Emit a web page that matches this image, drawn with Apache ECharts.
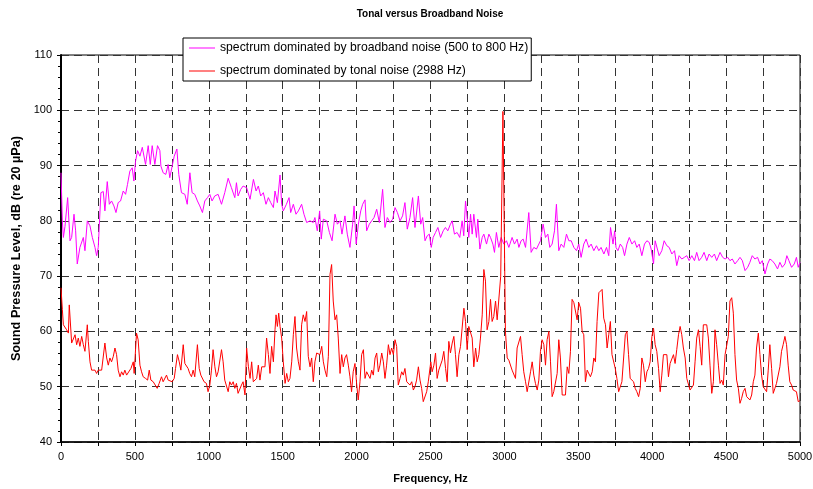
<!DOCTYPE html>
<html>
<head>
<meta charset="utf-8">
<script src="https://cdn.jsdelivr.net/npm/echarts@6/dist/echarts.min.js"></script>
<style>html,body{margin:0;padding:0;background:#fff;overflow:hidden}#c{width:813px;height:489px}</style>
</head>
<body>
<div id="c"></div>
<script>
// Broadband-dominated spectrum (Hz, dB)
const broadFreq = [
0,9,16,27,45,61,72,88,99,110,
128,151,162,178,196,212,230,241,252,264,
270,286,297,313,327,342,358,372,387,403,
421,437,450,466,482,493,504,518,534,550,
563,572,590,604,617,635,653,669,676,691,
709,725,736,752,766,784,797,815,838,854,
872,887,905,923,939,957,973,991,1007,1022,
1040,1063,1086,1108,1131,1153,1176,1187,1198,1216,
1232,1256,1279,1302,1320,1335,1351,1369,1387,1403,
1419,1437,1448,1464,1482,1493,1504,1525,1543,1554,
1572,1590,1606,1628,1644,1662,1685,1707,1718,1734,
1750,1761,1775,1798,1816,1834,1854,1870,1888,1901,
1921,1937,1955,1973,1983,1997,2012,2028,2041,2057,
2068,2086,2102,2118,2136,2154,2176,2192,2208,2226,
2244,2260,2276,2294,2311,2327,2343,2361,2379,2395,
2418,2434,2447,2463,2478,2492,2505,2518,2534,2550,
2568,2586,2601,2617,2635,2647,2662,2680,2698,2714,
2725,2737,2748,2759,2771,2782,2793,2811,2820,2834,
2850,2861,2879,2895,2906,2922,2933,2946,2962,2978,
2996,3014,3030,3052,3068,3086,3098,3113,3127,3143,
3165,3181,3199,3217,3233,3244,3262,3278,3294,3307,
3323,3339,3352,3368,3384,3402,3420,3436,3452,3470,
3488,3503,3519,3537,3553,3571,3587,3605,3623,3639,
3654,3673,3691,3706,3718,3735,3746,3755,3768,3784,
3800,3813,3829,3845,3863,3881,3896,3912,3930,3948,
3964,3980,3993,4009,4020,4031,4047,4065,4081,4099,
4115,4133,4151,4166,4182,4200,4218,4234,4250,4268,
4286,4301,4317,4335,4351,4369,4385,4403,4421,4436,
4459,4477,4493,4511,4526,4542,4560,4578,4594,4610,
4628,4646,4661,4677,4695,4713,4729,4745,4763,4781,
4796,4812,4830,4848,4864,4880,4898,4911,4925,4943,
4961,4976,4988,5000];
const broadLevel = [
88.7,80,77.0,79,84.2,76.4,77.0,81.2,78.2,72.2,
75.2,77.0,74.6,80.0,79.1,77.0,75.2,73.7,75.2,74.9,
85.1,85.3,81.8,87.1,83.0,83.6,82.7,81.5,83.3,83.6,
85.4,84.8,86.6,89.0,89.6,87.2,90.7,92.7,91.7,93.3,
93.6,90.2,93.6,90.2,93.6,90.2,93.6,92.7,89.9,88.7,
88.4,90.2,87.8,89.9,91.7,93.0,88.4,85.1,84.8,83.0,
88.7,85.1,84.8,83.6,82.7,81.5,83.6,84.2,84.8,83.6,
84.5,84.8,83.0,85.1,87.7,86.0,84.2,86.9,84.5,85.7,
86.3,86.0,83.9,87.5,85.4,86.3,84.5,85.1,83.0,84.2,
83.3,82.4,85.4,83.3,88.3,83.0,81.8,83.0,84.2,81.5,
83.0,81.2,81.8,83.0,81.2,79.7,80.0,79.7,80.6,78.2,
81.8,76.7,80.3,80.0,77.9,76.4,81.2,79.4,80.0,77.6,
80.9,77.6,75.2,79.4,82.7,75.8,79.4,81.8,83.0,83.8,
78.2,79.4,80.0,80.6,82.1,79.7,85.7,78.8,80.6,79.7,
80.3,82.4,81.5,80.0,80.9,83.3,78.5,80.6,84.2,78.8,
84.5,79.4,80.6,76.4,77.3,77.6,75.2,77.0,77.9,78.8,
77.0,78.2,78.8,78.2,79.4,80.0,77.6,77.9,77.0,80.0,
77.3,83.6,80.6,77.0,81.2,77.6,81.2,77.0,80.3,74.9,
77.0,77.6,75.8,77.6,77.0,75.8,74.3,77.9,75.2,77.0,
75.8,76.4,75.2,77.0,75.8,76.7,75.2,76.4,76.7,75.2,
81.5,74.3,75.2,74.9,75.8,76.4,79.4,77.0,77.6,75.2,
75.8,78.2,83.0,74.6,75.8,75.2,77.6,76.4,76.4,75.2,
74.6,75.8,73.4,75.8,76.7,75.2,75.8,74.6,75.5,74.6,
75.2,74.0,75.2,73.7,78.8,75.8,78.2,75.2,74.6,75.8,
75.2,73.7,75.8,77.0,75.8,76.4,75.2,75.8,73.7,75.8,
76.4,76.1,74.9,72.2,76.4,76.7,73.7,74.6,76.4,75.5,
75.2,74.0,74.6,71.9,73.7,73.1,73.4,73.7,72.8,73.7,
72.8,74.3,72.8,73.4,74.3,72.8,74.0,73.4,74.0,72.8,
74.3,73.4,73.1,73.4,72.8,73.1,72.2,72.8,73.4,72.8,
71.0,71.6,72.5,73.7,73.1,73.4,72.2,72.8,70.4,72.2,
73.1,72.8,72.2,71.3,72.5,71.6,72.2,73.7,72.8,71.6,
72.2,73.4,71.6,72.5];

// Tonal-dominated spectrum (Hz, dB)
const tonalFreq = [
0,9,16,38,50,56,65,72,83,95,
106,117,128,140,151,162,178,185,196,207,
218,230,241,252,264,275,286,297,309,320,
331,342,354,365,376,387,399,410,421,432,
444,455,473,489,495,511,522,534,545,556,
572,586,597,608,624,635,651,664,680,691,
703,714,725,736,752,766,775,788,800,811,
827,838,849,860,871,883,894,905,923,935,
946,957,968,984,995,1007,1018,1029,1041,1052,
1063,1074,1086,1097,1108,1120,1131,1142,1153,1165,
1176,1187,1198,1210,1221,1232,1245,1256,1268,1279,
1290,1301,1313,1324,1335,1346,1358,1369,1380,1391,
1403,1414,1425,1437,1448,1455,1464,1473,1482,1493,
1504,1516,1527,1538,1549,1561,1572,1583,1594,1606,
1617,1628,1639,1651,1662,1673,1685,1696,1707,1718,
1730,1741,1752,1764,1775,1786,1798,1809,1820,1831,
1842,1854,1865,1876,1888,1899,1910,1921,1932,1944,
1955,1966,1977,1989,2000,2011,2023,2034,2046,2057,
2068,2080,2091,2102,2113,2125,2136,2147,2158,2170,
2181,2192,2203,2215,2226,2237,2249,2260,2271,2282,
2294,2305,2316,2327,2339,2350,2361,2373,2384,2395,
2406,2418,2429,2440,2451,2463,2474,2485,2492,2502,
2511,2523,2534,2545,2556,2568,2579,2590,2602,2613,
2624,2635,2647,2658,2669,2680,2692,2703,2714,2726,
2737,2748,2759,2771,2782,2793,2805,2816,2827,2838,
2850,2861,2872,2883,2895,2906,2917,2928,2940,2951,
2962,2975,2990,3007,3019,3030,3041,3052,3064,3075,
3086,3098,3109,3120,3131,3143,3154,3165,3177,3188,
3199,3210,3222,3233,3244,3255,3267,3278,3289,3301,
3312,3323,3334,3346,3357,3368,3379,3391,3402,3413,
3425,3436,3447,3458,3470,3481,3492,3503,3515,3526,
3537,3548,3560,3571,3582,3594,3605,3616,3627,3639,
3650,3661,3672,3684,3695,3706,3717,3728,3739,3750,
3761,3773,3784,3795,3806,3818,3829,3840,3851,3863,
3874,3885,3896,3908,3919,3930,3941,3953,3964,3975,
3986,3998,4009,4020,4031,4043,4054,4065,4076,4088,
4099,4110,4121,4133,4144,4155,4166,4178,4189,4200,
4211,4223,4234,4245,4256,4268,4279,4290,4301,4313,
4324,4335,4346,4358,4369,4380,4391,4403,4414,4425,
4436,4448,4459,4470,4481,4493,4504,4515,4526,4538,
4549,4560,4571,4583,4594,4605,4616,4628,4639,4650,
4661,4673,4684,4695,4706,4718,4729,4740,4751,4763,
4774,4785,4796,4808,4819,4830,4841,4853,4864,4875,
4886,4898,4909,4920,4931,4943,4954,4965,4976,4988,
5000];
const tonalLevel = [
67.9,64,61.2,60.3,59.7,64.8,64.5,57.9,58.2,59.4,
57.6,58.8,57.3,59.1,57.6,56.4,61.2,58.2,54.5,53.0,
52.7,53.0,52.4,53.0,52.7,53.0,52.7,57.9,55.2,53.9,
55.2,54.5,55.5,57.0,55.8,53.0,51.8,52.7,52.1,53.0,
52.1,51.8,53.3,54.5,52.4,59.7,58.5,53.9,52.7,51.8,
51.5,51.2,53.0,51.2,50.9,50.6,49.7,50.6,51.8,50.9,
50.6,52.1,51.2,51.5,50.9,51.5,53.3,55.8,54.5,53.0,
57.6,54.2,53.9,53.3,52.4,51.8,53.0,51.8,57.6,53.3,
52.1,52.4,50.9,50.6,49.1,50.3,53.0,56.7,53.6,51.8,
52.7,52.4,56.7,54.5,51.2,51.5,49.1,50.9,50.3,50.9,
49.7,50.6,48.8,48.5,50.3,50.9,48.5,57.0,53.6,51.5,
54.5,50.9,50.6,51.5,53.9,51.2,53.6,53.3,53.6,58.8,
55.8,52.4,57.3,54.5,60.3,63.0,60.9,63.3,60.9,58.8,
54.5,50.6,52.4,50.9,51.5,54.5,59.4,62.7,57.0,54.5,
53.0,61.2,63.0,61.8,63.6,55.5,53.6,55.2,50.9,54.5,
56.1,56.4,55.8,57.3,54.5,53.0,51.8,55.5,70.3,72.1,
65.5,62.1,63.0,58.8,52.4,55.8,53.6,55.2,55.8,53.9,
51.8,49.1,52.7,54.2,50.6,47.6,50.9,55.8,56.7,51.5,
52.7,53.0,51.5,53.0,52.1,55.2,56.1,52.7,53.9,56.1,
54.5,51.5,53.9,57.6,55.8,57.0,55.8,58.5,57.3,50.3,
51.5,52.7,52.1,53.3,50.9,51.2,50.3,50.9,49.4,50.0,
51.2,53.6,51.2,49.7,47.3,47.0,49.1,50.9,50.6,54.5,
52.7,53.9,56.1,51.5,53.0,52.7,54.8,56.4,53.3,50.9,
58.2,56.1,57.9,59.1,55.8,51.8,55.8,57.3,57.6,64.2,
61.8,56.7,60.9,60.9,58.8,53.6,57.0,54.5,55.8,58.8,
63.0,71.2,69.1,60.3,61.8,65.8,61.8,62.7,65.5,62.1,
61.8,70.0,99.8,60.0,55.2,54.8,54.5,53.0,52.7,51.5,
57.0,56.7,59.1,55.8,52.7,50.9,49.1,49.1,52.7,54.5,
52.1,50.6,49.4,51.2,56.4,58.5,57.6,53.9,58.5,60.0,
54.5,48.2,49.1,49.4,52.4,58.5,55.2,48.5,48.8,48.5,
53.6,52.4,56.4,65.8,65.2,65.2,62.1,65.2,64.2,60.0,
59.4,50.9,53.0,53.0,51.8,52.7,55.2,54.5,61.8,67.0,
67.0,67.6,62.4,61.2,57.0,59.4,61.8,55.8,55.8,53.3,
51.5,49.1,48.8,50.9,51.2,59.4,60.0,55.8,51.5,51.2,
50.9,49.7,49.1,48.2,49.7,55.2,53.9,50.9,52.7,53.3,
54.5,59.1,60.6,57.6,56.4,53.3,49.1,52.1,55.8,56.1,
55.8,51.8,54.2,53.9,55.8,54.2,56.7,59.4,60.9,59.4,
57.0,55.2,51.5,51.2,49.4,49.7,50.3,54.5,58.8,60.3,
57.3,53.9,61.2,61.5,61.2,58.8,53.9,48.8,50.9,60.3,
57.6,53.9,50.6,51.2,50.3,55.8,56.1,59.1,65.5,66.1,
63.3,55.8,51.2,49.7,47.0,47.9,49.1,49.7,48.2,47.9,
47.6,48.5,50.9,52.1,57.0,59.7,55.8,52.1,50.0,49.7,
49.1,53.0,57.6,53.3,48.8,49.7,50.6,50.3,53.6,56.4,
57.6,59.1,57.6,53.9,50.9,50.3,49.4,49.7,49.1,47.3,
47.5];

const seriesNames = [
  'spectrum dominated by broadband noise (500 to 800 Hz)',
  'spectrum dominated by tonal noise (2988 Hz)'
];

const FONT = '"Liberation Sans", Arial, sans-serif';
const dash = { color: '#333', width: 1, type: [8, 5] };

const chart = echarts.init(document.getElementById('c'), null, { renderer: 'canvas' });
chart.setOption({
  animation: false,
  backgroundColor: '#fff',
  textStyle: { fontFamily: FONT, color: '#000' },
  title: {
    text: 'Tonal versus Broadband Noise',
    left: 425, top: 4, textAlign: 'center',
    textStyle: { fontFamily: FONT, fontSize: 10, fontWeight: 'bold', color: '#000' }
  },
  legend: {
    orient: 'vertical',
    left: 183, top: 38,
    padding: [3, 3, 3, 6],
    itemGap: 9,
    icon: 'rect',
    itemWidth: 26, itemHeight: 1,
    backgroundColor: '#fff',
    borderColor: '#000', borderWidth: 1,
    textStyle: { fontFamily: FONT, fontSize: 12.2, color: '#000', lineHeight: 14 },
    data: seriesNames
  },
  grid: {
    left: 61, right: 13, top: 55, bottom: 47,
    outerBoundsMode: 'none', containLabel: false,
    show: true, borderColor: '#000', borderWidth: 1, backgroundColor: '#fff'
  },
  xAxis: {
    type: 'value', min: 0, max: 5000, interval: 500,
    name: 'Frequency, Hz', nameLocation: 'middle', nameGap: 31,
    nameTextStyle: { fontFamily: FONT, fontSize: 11, fontWeight: 'bold', color: '#000' },
    axisLine: { lineStyle: { color: '#000', width: 1.5 } },
    axisTick: { length: 4, lineStyle: { color: '#000' } },
    minorTick: { show: true, splitNumber: 2, length: 4, lineStyle: { color: '#000' } },
    axisLabel: { fontFamily: FONT, fontSize: 11, color: '#000', margin: 9, formatter: v => String(v) },
    splitLine: { show: true, lineStyle: dash },
    minorSplitLine: { show: true, lineStyle: dash }
  },
  yAxis: {
    type: 'value', min: 40, max: 110, interval: 10,
    name: 'Sound Pressure Level, dB (re 20 µPa)', nameLocation: 'middle', nameGap: 37,
    nameTextStyle: { fontFamily: FONT, fontSize: 12.7, fontWeight: 'bold', color: '#000' },
    axisLine: { show: true, lineStyle: { color: '#000', width: 2 } },
    axisTick: { show: true, length: 4, lineStyle: { color: '#000' } },
    minorTick: { show: true, splitNumber: 5, length: 3, lineStyle: { color: '#000' } },
    axisLabel: { fontFamily: FONT, fontSize: 11, color: '#000', margin: 9, formatter: v => String(v) },
    splitLine: { show: true, lineStyle: dash }
  },
  series: [
    {
      name: seriesNames[0], type: 'line', symbol: 'none', showSymbol: false,
      lineStyle: { color: '#FF00FF', width: 1 }, itemStyle: { color: '#FF00FF' },
      data: broadFreq.map((f, i) => [f, broadLevel[i]])
    },
    {
      name: seriesNames[1], type: 'line', symbol: 'none', showSymbol: false,
      lineStyle: { color: '#FF0000', width: 1 }, itemStyle: { color: '#FF0000' },
      data: tonalFreq.map((f, i) => [f, tonalLevel[i]])
    }
  ]
});
</script>
</body>
</html>
